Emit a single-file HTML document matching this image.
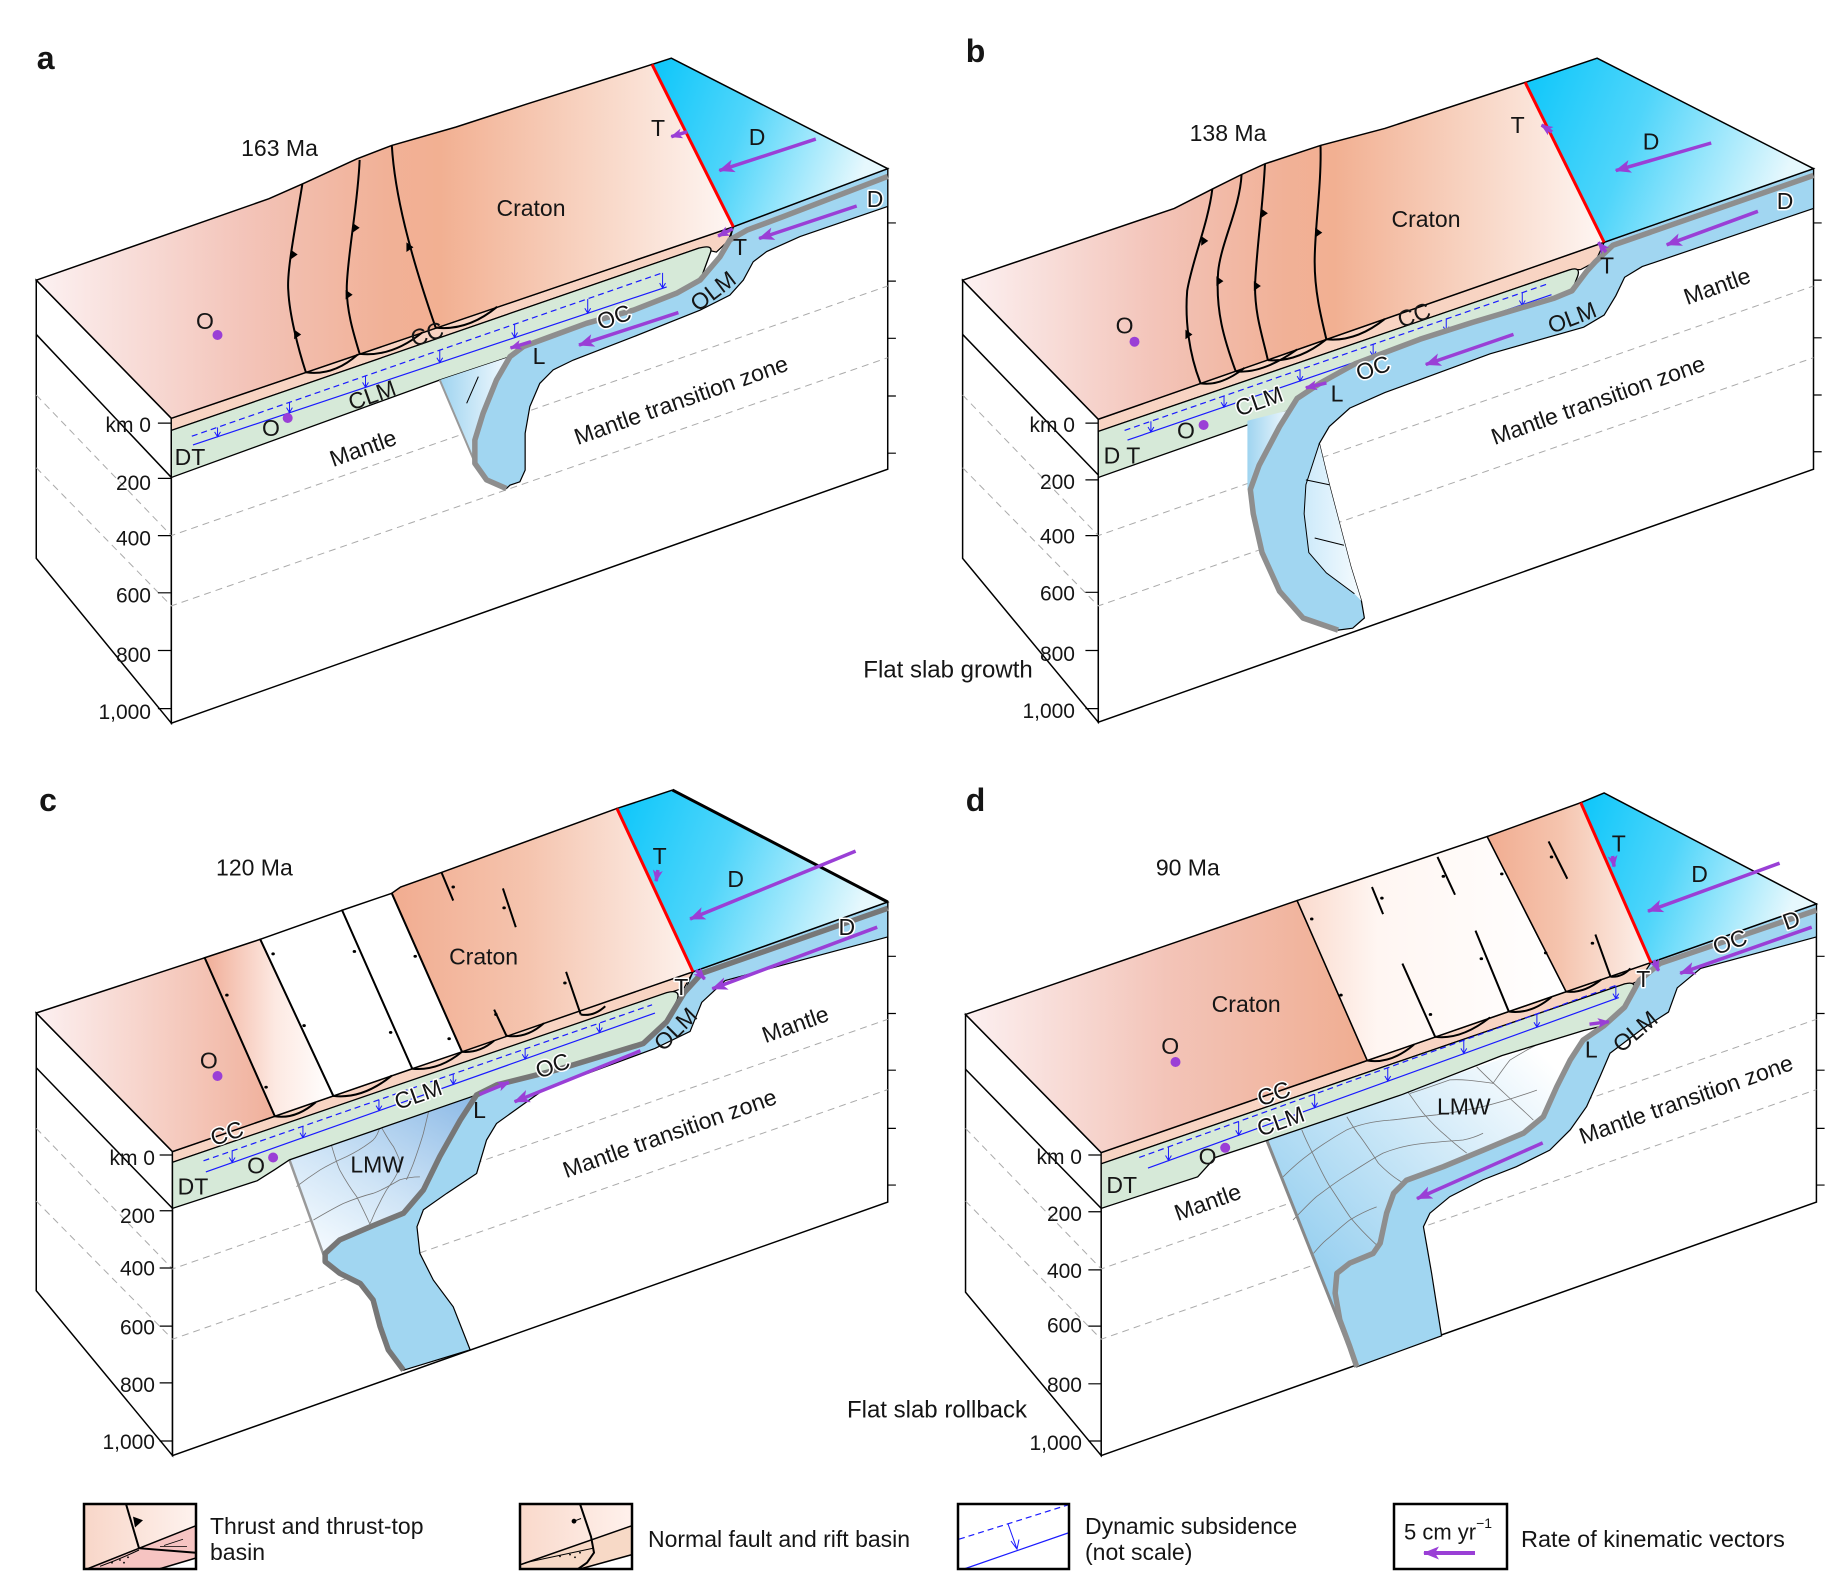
<!DOCTYPE html>
<html><head><meta charset="utf-8">
<style>
html,body{margin:0;padding:0;background:#fff;overflow:hidden;}
svg{display:block;}
.p *{vector-effect:non-scaling-stroke;}
text{font-family:"Liberation Sans",Arial,sans-serif;fill:#151515;}
.lb{font-size:23px;}
.dp{font-size:21px;text-anchor:end;dominant-baseline:central;}
.c{text-anchor:middle;dominant-baseline:central;}
.pl{font-size:32px;font-weight:bold;}
.halo{stroke:#fff;stroke-width:3px;paint-order:stroke;stroke-linejoin:round;}
.lg{font-size:23px;dominant-baseline:central;}
</style></head><body>
<svg width="1834" height="1588" viewBox="0 0 1834 1588" xmlns="http://www.w3.org/2000/svg">
<defs>
<linearGradient id="cr" x1="0" y1="0" x2="1" y2="0">
<stop offset="0" stop-color="#fcf1f2"/><stop offset="0.3" stop-color="#f3c4b9"/><stop offset="0.5" stop-color="#f1b197"/><stop offset="0.58" stop-color="#f2b092"/><stop offset="0.8" stop-color="#f8d5c4"/><stop offset="1" stop-color="#fef6f3"/>
</linearGradient>
<linearGradient id="oc" x1="0" y1="0" x2="1" y2="0.25">
<stop offset="0" stop-color="#0bc6fa"/><stop offset="0.45" stop-color="#4fd5fa"/><stop offset="1" stop-color="#e6f8fd"/>
</linearGradient>
<linearGradient id="wA" x1="0" y1="0" x2="1" y2="0"><stop offset="0" stop-color="#9fd4f0"/><stop offset="1" stop-color="#f4fafe"/></linearGradient>
<linearGradient id="wB" x1="0" y1="0" x2="1" y2="0"><stop offset="0" stop-color="#cdeafa"/><stop offset="1" stop-color="#f5fbfe"/></linearGradient>
<linearGradient id="rc1" x1="0" y1="0" x2="1" y2="0"><stop offset="0" stop-color="#fcf0f1"/><stop offset="1" stop-color="#f0b09b"/></linearGradient>
<linearGradient id="rc2" x1="0" y1="0" x2="1" y2="0"><stop offset="0" stop-color="#f0ad97"/><stop offset="0.55" stop-color="#fde9e2"/><stop offset="1" stop-color="#ffffff"/></linearGradient>
<linearGradient id="rc5" x1="0" y1="0" x2="1" y2="0"><stop offset="0" stop-color="#f1ac90"/><stop offset="0.45" stop-color="#f5c4ae"/><stop offset="1" stop-color="#fdf2ed"/></linearGradient>
<linearGradient id="rd1" x1="0" y1="0" x2="1" y2="0"><stop offset="0" stop-color="#fcf0f1"/><stop offset="0.5" stop-color="#f3c4b8"/><stop offset="1" stop-color="#f0ad91"/></linearGradient>
<linearGradient id="rd2" x1="0" y1="0" x2="1" y2="0"><stop offset="0" stop-color="#fadacd"/><stop offset="0.3" stop-color="#fff6f2"/><stop offset="1" stop-color="#ffffff"/></linearGradient>
<linearGradient id="lC" gradientUnits="userSpaceOnUse" x1="780" y1="690" x2="560" y2="1010"><stop offset="0" stop-color="#90bce7"/><stop offset="0.6" stop-color="#cfe4f6"/><stop offset="1" stop-color="#f2f9fe"/></linearGradient>
<linearGradient id="lD" gradientUnits="userSpaceOnUse" x1="640" y1="1000" x2="1080" y2="620"><stop offset="0" stop-color="#98d0f0"/><stop offset="1" stop-color="#ffffff"/></linearGradient>
<linearGradient id="lg1" x1="0" y1="0" x2="1" y2="0"><stop offset="0" stop-color="#f8d6c8"/><stop offset="1" stop-color="#fef2ee"/></linearGradient>
<linearGradient id="lg2" x1="0" y1="0" x2="1" y2="0"><stop offset="0" stop-color="#f9d9cb"/><stop offset="1" stop-color="#fff1ec"/></linearGradient>
<marker id="ah" markerUnits="userSpaceOnUse" markerWidth="18" markerHeight="14" refX="15" refY="7" orient="auto"><path d="M0,0.5 L16,7 L0,13.5 L4,7 Z" fill="#9a3fd6"/></marker>
<marker id="ahs" markerUnits="userSpaceOnUse" markerWidth="13" markerHeight="11" refX="11" refY="5.5" orient="auto"><path d="M0,0.5 L12,5.5 L0,10.5 L3,5.5 Z" fill="#9a3fd6"/></marker>
</defs>

<!-- ================= PANEL A ================= -->
<g class="p" transform="translate(0,0) scale(0.5848,0.4847)">
<polygon points="62,578 293,863 293,1492 62,1152" fill="#fff" stroke="#000" stroke-width="1.5"/>
<polygon points="293,863 1254,468 1518,348 1518,968 293,1492" fill="#fff" stroke="#000" stroke-width="1.5"/>
<path d="M62,815 L293,1105 L1518,590 M62,965 L293,1250 L1518,738" fill="none" stroke="#aaa" stroke-width="1" stroke-dasharray="7 5"/>
<path d="M62,690 L293,985" stroke="#000" stroke-width="1.5" fill="none"/>
<path d="M1518,460h14M1518,580h14M1518,698h14M1518,817h14M1518,935h14M270,873h23M270,987h23M270,1105h23M270,1223h23M270,1342h23M270,1462h23" stroke="#000" stroke-width="1.2"/>
<polygon points="1518,348 1254,468 1248,495 1231,530 1197,578 1157,605 1083,640 1003,667 940,695 895,715 872,736 849,784 826,853 812,908 812,956 832,990 866,1008 872,1001 889,994 898,970 898,894 906,839 923,791 946,763 980,743 1083,695 1197,640 1248,609 1271,578 1288,540 1311,519 1368,488 1518,426" fill="#a1d6f1" stroke="#000" stroke-width="1.2"/>
<polygon points="293,863 1254,468 1245,497 1225,520 1195,512 293,888" fill="#f8d4c3" stroke="#000" stroke-width="1.2"/>
<path d="M293,888 L1195,512 Q1222,503 1214,524 L1200,570 L1197,578 L1157,605 L1083,640 L1003,667 L940,695 L895,715 L872,736 L752,784 L293,985 Z" fill="#d6e9d8" stroke="#000" stroke-width="1.3"/>
<polygon points="752,784 872,736 849,784 826,853 812,908 815,963" fill="url(#wA)"/>
<path d="M752,784 L815,963" stroke="#999" stroke-width="2" fill="none"/>
<path d="M798,832 L818,777" stroke="#000" stroke-width="1"/>
<path d="M328,900 L1135,562" stroke="#1a1aff" stroke-width="1.2" stroke-dasharray="6 4" fill="none"/>
<path d="M330,918 L1140,592" stroke="#1a1aff" stroke-width="1.2" fill="none"/>
<path d="M372,882V901M367,891L372,901L377,891M495,830V851M490,841L495,851L500,841M625,776V799M620,789L625,799L630,789M752,722V748M747,738L752,748L757,738M880,669V696M875,686L880,696L885,686M1005,617V646M1000,636L1005,646L1010,636M1133,563V594M1128,584L1133,594L1138,584" stroke="#1a1aff" stroke-width="1" fill="none"/>
<path d="M1518,364 L1339,447 L1277,475 L1248,495 L1231,530 L1197,578 L1157,605 L1083,640 L1003,667 L940,695 L895,715 L872,736 L849,784 L826,853 L812,908 L812,956 L832,990 L866,1008" fill="none" stroke="#8e8e8e" stroke-width="5.5" stroke-linejoin="round"/>
<polygon points="62,578 460,410 520,378 610,328 670,300 780,262 900,215 1115,133 1254,468 293,863" fill="url(#cr)" stroke="#000" stroke-width="1.5"/>
<polygon points="1115,133 1148,120 1518,348 1254,468" fill="url(#oc)" stroke="#000" stroke-width="1.5"/>
<path d="M1115,133 L1254,468" stroke="#f00" stroke-width="3"/>
<g fill="none" stroke="#000" stroke-width="2">
<path d="M517,380 C505,470 490,560 493,600 C495,650 510,720 523,768"/>
<path d="M615,330 C612,420 595,520 593,590 C592,640 605,690 615,730"/>
<path d="M670,300 C675,400 700,520 745,676"/>
<path d="M523,768 Q570,776 612,731 M615,730 Q670,737 722,686 M745,676 Q800,683 850,633"/>
</g>
<g fill="#000"><polygon points="497,515 497,535 509,525"/><polygon points="503,680 503,700 515,690"/><polygon points="603,460 603,480 615,470"/><polygon points="591,598 591,618 603,608"/><polygon points="695,500 695,520 707,510"/></g>
</g>
<g>
<text class="pl c" x="45.6" y="58">a</text>
<text class="lb c" x="279.5" y="148">163 Ma</text>
<text class="lb c" x="531" y="208">Craton</text>
<text class="lb c" x="658" y="128">T</text>
<text class="lb c" x="757" y="137">D</text>
<text class="lb c halo" x="875" y="199">D</text>
<text class="lb c" x="740" y="247">T</text>
<text class="lb c" x="205" y="321">O</text>
<text class="lb c" x="271" y="428">O</text>
<text class="lb c" x="427" y="334" transform="rotate(-19.5 427 334)">CC</text>
<text class="lb c halo" x="614" y="317" transform="rotate(-19.5 614 317)">OC</text>
<text class="lb c" x="372" y="395" transform="rotate(-19.5 372 395)">CLM</text>
<text class="lb c" x="713" y="291" transform="rotate(-37 713 291)">OLM</text>
<text class="lb c" x="539" y="356">L</text>
<text class="lb c" x="363" y="448" transform="rotate(-19.5 363 448)">Mantle</text>
<text class="lb c" x="681" y="400" transform="rotate(-19.5 681 400)">Mantle transition zone</text>
<text class="lb c" x="190" y="457">DT</text>
<text class="dp" x="151" y="425.6">km 0</text>
<text class="dp" x="151" y="483.3">200</text>
<text class="dp" x="151" y="539">400</text>
<text class="dp" x="151" y="596.2">600</text>
<text class="dp" x="151" y="655.3">800</text>
<text class="dp" x="151" y="712.5">1,000</text>
<circle cx="217.5" cy="335" r="5" fill="#9a3fd6"/>
<circle cx="287.7" cy="418" r="5" fill="#9a3fd6"/>
<g stroke="#9a3fd6" stroke-width="3.5" fill="none">
<path d="M815.8,139.1 L719.3,170.6" marker-end="url(#ah)"/>
<path d="M856.7,206 L759.1,238.5" marker-end="url(#ah)"/>
<path d="M678.4,312.6 L579,345.1" marker-end="url(#ah)"/>
<path d="M531,341.7 L510.5,348" marker-end="url(#ahs)"/>
<path d="M687.1,131.8 L671.3,136.7" marker-end="url(#ahs)"/>
<path d="M732.8,228.8 L718.1,236" marker-end="url(#ahs)"/>
</g>
</g>

<!-- ================= PANEL B ================= -->
<g class="p" transform="translate(917,0) scale(0.5848,0.4847)">
<polygon points="78,578 310,865 310,1490 78,1152" fill="#fff" stroke="#000" stroke-width="1.5"/>
<polygon points="310,865 1175,500 1533,348 1533,968 310,1490" fill="#fff" stroke="#000" stroke-width="1.5"/>
<path d="M78,815 L310,1105 L1533,590 M78,965 L310,1250 L1533,738" fill="none" stroke="#aaa" stroke-width="1" stroke-dasharray="7 5"/>
<path d="M78,690 L310,980" stroke="#000" stroke-width="1.5" fill="none"/>
<path d="M1533,460h14M1533,578h14M1533,697h14M1533,815h14M1533,932h14M288,873h22M288,990h22M288,1105h22M288,1222h22M288,1342h22M288,1462h22" stroke="#000" stroke-width="1.2"/>
<polygon points="1533,348 1175,500 1160,540 1145,560 1120,600 1090,615 950,665 860,700 750,750 690,790 650,822 620,880 585,960 570,1010 575,1060 590,1140 620,1220 660,1275 720,1300 745,1296 765,1275 760,1240 742,1170 705,1000 688,915 705,880 740,842 800,810 980,730 1140,675 1175,650 1195,610 1210,572 1240,550 1533,430" fill="#a1d6f1" stroke="#000" stroke-width="1.2"/>
<polygon points="688,915 705,1000 742,1170 760,1240 748,1225 700,1182 670,1140 662,1060 665,1000" fill="url(#wB)"/>
<path d="M688,915 L665,1000 L662,1060 L670,1140 L700,1182 L748,1225 M665,990 L705,1000 M680,1110 L730,1125" stroke="#000" stroke-width="1" fill="none"/>
<polygon points="310,865 1175,500 1160,540 1135,556 1115,557 310,890" fill="#f8d4c3" stroke="#000" stroke-width="1.2"/>
<path d="M310,890 L1115,557 Q1138,548 1128,575 L1120,600 L1090,615 L950,665 L860,700 L750,750 L690,790 L650,822 L640,845 L310,985 Z" fill="#d6e9d8" stroke="#000" stroke-width="1.3"/>
<polygon points="565,868 640,845 620,880 585,960 570,1010 565,1010" fill="url(#wA)"/>
<path d="M355,888 L1080,585" stroke="#1a1aff" stroke-width="1.2" stroke-dasharray="6 4" fill="none"/>
<path d="M360,908 L1085,608" stroke="#1a1aff" stroke-width="1.2" fill="none"/>
<path d="M400,869V891M395,881L400,891L405,881M525,817V840M520,830L525,840L530,830M655,763V786M650,776L655,786L660,776M780,710V735M775,725L780,735L785,725M905,658V684M900,674L905,684L910,674M1035,604V630M1030,620L1035,630L1040,620" stroke="#1a1aff" stroke-width="1" fill="none"/>
<path d="M1533,362 L1190,506 L1160,540 L1145,560 L1120,600 L1090,615 L950,665 L860,700 L750,750 L690,790 L650,822 L620,880 L585,960 L570,1010 L575,1060 L590,1140 L620,1220 L660,1275 L720,1300" fill="none" stroke="#8e8e8e" stroke-width="5.5" stroke-linejoin="round"/>
<polygon points="78,578 440,430 505,390 555,360 595,338 690,300 800,265 1040,170 1175,500 310,865" fill="url(#cr)" stroke="#000" stroke-width="1.5"/>
<polygon points="1040,170 1163,120 1533,348 1175,500" fill="url(#oc)" stroke="#000" stroke-width="1.5"/>
<path d="M1040,170 L1175,500" stroke="#f00" stroke-width="3"/>
<g fill="none" stroke="#000" stroke-width="2">
<path d="M505,390 C498,460 470,540 462,600 C458,660 465,730 485,791"/>
<path d="M555,360 C552,430 520,500 515,560 C510,640 525,700 545,766"/>
<path d="M595,338 C592,420 580,520 578,590 C578,650 590,690 600,743"/>
<path d="M690,300 C692,380 680,470 680,540 C680,600 690,650 700,700"/>
<path d="M485,791 Q520,797 560,759 M545,766 Q590,772 650,721 M600,743 Q650,748 700,700 M700,700 Q750,706 800,658"/>
</g>
<g fill="#000"><polygon points="486,487 486,507 498,497"/><polygon points="459,680 459,700 471,690"/><polygon points="512,570 512,590 524,580"/><polygon points="588,430 588,450 600,440"/><polygon points="576,580 576,600 588,590"/><polygon points="681,470 681,490 693,480"/></g>
</g>
<g>
<text class="pl c" x="975.5" y="51">b</text>
<text class="lb c" x="1228" y="133">138 Ma</text>
<text class="lb c" x="1426" y="219">Craton</text>
<text class="lb c" x="1517.6" y="125">T</text>
<text class="lb c" x="1651" y="141.5">D</text>
<text class="lb c halo" x="1785" y="201">D</text>
<text class="lb c" x="1607" y="265.6">T</text>
<text class="lb c" x="1717" y="286" transform="rotate(-19.5 1717 286)">Mantle</text>
<text class="lb c" x="1572" y="317.5" transform="rotate(-21 1572 317.5)">OLM</text>
<text class="lb c" x="1414" y="315" transform="rotate(-19.5 1414 315)">CC</text>
<text class="lb c halo" x="1373" y="368" transform="rotate(-19.5 1373 368)">OC</text>
<text class="lb c halo" x="1259" y="401" transform="rotate(-19.5 1259 401)">CLM</text>
<text class="lb c" x="1337" y="393.6">L</text>
<text class="lb c" x="1124.6" y="325.7">O</text>
<text class="lb c" x="1186" y="430.4">O</text>
<text class="lb c" x="1122" y="455.6">D T</text>
<text class="lb c" x="1598" y="400" transform="rotate(-19.5 1598 400)">Mantle transition zone</text>
<text class="dp" x="1075" y="425.6">km 0</text>
<text class="dp" x="1075" y="482.3">200</text>
<text class="dp" x="1075" y="537">400</text>
<text class="dp" x="1075" y="594.2">600</text>
<text class="dp" x="1075" y="654.3">800</text>
<text class="dp" x="1075" y="711.5">1,000</text>
<circle cx="1134.5" cy="341.7" r="5" fill="#9a3fd6"/>
<circle cx="1203.6" cy="425" r="5" fill="#9a3fd6"/>
<g stroke="#9a3fd6" stroke-width="3.5" fill="none">
<path d="M1711.2,143 L1615.8,170.6" marker-end="url(#ah)"/>
<path d="M1757.9,211.3 L1666.7,244.8" marker-end="url(#ah)"/>
<path d="M1513.5,334.4 L1425.8,364.5" marker-end="url(#ah)"/>
<path d="M1326.4,382.9 L1305.9,387.8" marker-end="url(#ahs)"/>
<path d="M1552,132 L1541.6,125" marker-end="url(#ahs)"/>
<path d="M1606,252 L1598.3,242.4" marker-end="url(#ahs)"/>
</g>
<text class="lb c" x="948" y="670" style="font-size:24px">Flat slab growth</text>
</g>

<!-- ================= PANEL C ================= -->
<g class="p" transform="translate(0,760) scale(0.5848,0.4847)">
<polygon points="62,522 295,808 295,1435 62,1095" fill="#fff" stroke="#000" stroke-width="1.5"/>
<polygon points="295,808 1185,437 1518,293 1518,912 295,1435" fill="#fff" stroke="#000" stroke-width="1.5"/>
<path d="M62,760 L295,1050 L1518,535 M62,910 L295,1195 L1518,680" fill="none" stroke="#aaa" stroke-width="1" stroke-dasharray="7 5"/>
<path d="M62,635 L295,925" stroke="#000" stroke-width="1.5" fill="none"/>
<path d="M1518,405h14M1518,523h14M1518,640h14M1518,760h14M1518,877h14M273,815h22M273,930h22M273,1048h22M273,1168h22M273,1285h22M273,1405h22" stroke="#000" stroke-width="1.2"/>
<polygon points="1518,293 1185,437 1170,480 1140,540 1100,585 950,640 850,670 815,691 787,743 752,818 724,887 690,935 633,963 581,990 556,1018 556,1035 581,1059 616,1080 638,1114 650,1169 664,1217 690,1259 804,1217 775,1128 741,1073 718,1018 713,963 724,928 764,894 815,853 832,784 849,750 930,680 1120,595 1180,560 1200,500 1240,455 1518,365" fill="#a1d6f1" stroke="#000" stroke-width="1.2"/>
<polygon points="495,825 815,691 787,743 752,818 724,887 690,935 633,963 581,990 556,1018 556,1035" fill="url(#lC)"/>
<g fill="none" stroke="#777" stroke-width="0.8">
<path d="M564,784 C572,815 575,830 581,846 C592,870 600,885 610,901 C620,925 628,945 633,959"/>
<path d="M650,753 C660,775 668,790 673,798 C680,815 686,830 684,839 C678,860 668,875 661,887 C650,910 640,935 633,956"/>
<path d="M735,715 C730,740 727,755 724,770 C718,795 712,815 707,832 C703,845 698,858 695,866"/>
<path d="M507,880 C520,868 533,857 547,846 C562,835 578,826 593,818 C610,808 626,796 638,784 C645,776 648,765 650,756"/>
<path d="M536,949 C553,937 570,925 587,915 C605,906 622,899 638,894 C655,887 670,875 684,866 C695,862 707,860 718,860"/>
</g>
<path d="M495,825 L556,1030" stroke="#999" stroke-width="2.5" fill="none"/>
<polygon points="295,808 1185,437 1170,470 1150,478 295,830" fill="#f8d4c3" stroke="#000" stroke-width="1.2"/>
<path d="M295,830 L1140,480 Q1165,472 1158,495 L1140,540 L1100,585 L950,640 L850,670 L815,691 L495,825 L470,845 L440,868 L295,925 Z" fill="#d6e9d8" stroke="#000" stroke-width="1.3"/>
<path d="M348,827 L1115,505" stroke="#1a1aff" stroke-width="1.2" stroke-dasharray="6 4" fill="none"/>
<path d="M352,850 L1120,522" stroke="#1a1aff" stroke-width="1.2" fill="none"/>
<path d="M397,806V830M392,820L397,830L402,820M518,756V779M513,769L518,779L523,769M648,701V723M643,713L648,723L653,713M775,648V669M770,659L775,669L780,659M898,596V617M893,607L898,617L903,607M1025,543V562M1020,552L1025,562L1030,552" stroke="#1a1aff" stroke-width="1" fill="none"/>
<path d="M1518,306 L1200,440 L1170,480 L1140,540 L1100,585 L950,640 L850,670 L815,691 L787,743 L752,818 L724,887 L690,935 L633,963 L581,990 L556,1018 L556,1035 L581,1059 L616,1080 L638,1114 L650,1169 L664,1217 L690,1259" fill="none" stroke="#777" stroke-width="5.5" stroke-linejoin="round"/>
<polygon points="62,522 350,408 470,735 295,808" fill="url(#rc1)" stroke="#000" stroke-width="1.5"/>
<polygon points="350,408 445,370 570,693 470,735" fill="url(#rc2)" stroke="#000" stroke-width="1.5"/>
<polygon points="445,370 585,310 705,637 570,693" fill="#fff" stroke="#000" stroke-width="1.5"/>
<polygon points="585,310 670,275 790,602 705,637" fill="#fff" stroke="#000" stroke-width="1.5"/>
<polygon points="670,275 685,262 755,232 1055,100 1185,437 790,602" fill="url(#rc5)" stroke="#000" stroke-width="1.5"/>
<polygon points="1055,100 1150,62 1518,293 1185,437" fill="url(#oc)" stroke="#000" stroke-width="1.5"/>
<path d="M1150,62 L1518,293" stroke="#000" stroke-width="3"/>
<path d="M1055,100 L1185,437" stroke="#f00" stroke-width="3"/>
<g fill="none" stroke="#000" stroke-width="2">
<path d="M350,408 L470,735 M445,370 L570,693 M585,310 L705,637 M670,275 L790,602"/>
<path d="M755,232 L775,290 M860,265 L882,345 M968,437 L993,525 M845,515 L866,569"/>
<path d="M470,735 Q505,742 540,706 M570,693 Q620,700 670,651 M705,637 Q750,642 790,602 M790,602 Q820,605 845,579 M866,569 Q900,575 930,543 M993,525 Q1015,530 1035,508"/>
</g>
<g fill="#000"><circle cx="388" cy="485" r="3"/><circle cx="455" cy="675" r="3"/><circle cx="467" cy="400" r="3"/><circle cx="520" cy="548" r="3"/><circle cx="606" cy="395" r="3"/><circle cx="668" cy="562" r="3"/><circle cx="710" cy="405" r="3"/><circle cx="768" cy="575" r="3"/><circle cx="775" cy="262" r="3"/><circle cx="862" cy="305" r="3"/><circle cx="966" cy="460" r="3"/><circle cx="848" cy="525" r="3"/></g>
</g>
<g>
<text class="pl c" x="48" y="800">c</text>
<text class="lb c" x="254.4" y="867.6">120 Ma</text>
<text class="lb c" x="483.6" y="956.3">Craton</text>
<text class="lb c" x="659.7" y="856">T</text>
<text class="lb c" x="735.7" y="878.8">D</text>
<text class="lb c halo" x="846.8" y="927.2">D</text>
<text class="lb c halo" x="681.3" y="986.8">T</text>
<text class="lb c" x="795.3" y="1024.2" transform="rotate(-19.5 795.3 1024.2)">Mantle</text>
<text class="lb c" x="675.4" y="1029" transform="rotate(-45 675.4 1029)">OLM</text>
<text class="lb c halo" x="552.6" y="1065.4" transform="rotate(-19.5 552.6 1065.4)">OC</text>
<text class="lb c halo" x="418.1" y="1094.4" transform="rotate(-19.5 418.1 1094.4)">CLM</text>
<text class="lb c" x="479.5" y="1110">L</text>
<text class="lb c halo" x="226.9" y="1133.2" transform="rotate(-19.5 226.9 1133.2)">CC</text>
<text class="lb c" x="208.8" y="1060.5">O</text>
<text class="lb c" x="256.1" y="1165.7">O</text>
<text class="lb c" x="377.2" y="1164.7">LMW</text>
<text class="lb c" x="193" y="1186.5">DT</text>
<text class="lb c" x="669.6" y="1133.2" transform="rotate(-19.5 669.6 1133.2)">Mantle transition zone</text>
<text class="dp" x="155" y="1158.4">km 0</text>
<text class="dp" x="155" y="1216.6">200</text>
<text class="dp" x="155" y="1268.9">400</text>
<text class="dp" x="155" y="1328">600</text>
<text class="dp" x="155" y="1385.3">800</text>
<text class="dp" x="155" y="1442.4">1,000</text>
<circle cx="217.5" cy="1076" r="5" fill="#9a3fd6"/>
<circle cx="273.1" cy="1157.5" r="5" fill="#9a3fd6"/>
<g stroke="#9a3fd6" stroke-width="3.5" fill="none">
<path d="M855.6,851.1 L690.1,919" marker-end="url(#ah)"/>
<path d="M877.2,927.2 L712.3,988.8" marker-end="url(#ah)"/>
<path d="M640.4,1050.8 L514.6,1101.7" marker-end="url(#ah)"/>
<path d="M479.5,1094.4 L508.8,1082.3" marker-end="url(#ahs)"/>
<path d="M657.9,870 L656.1,881.2" marker-end="url(#ahs)"/>
<path d="M696,970 L704.7,979.1" marker-end="url(#ahs)"/>
</g>
<text class="lb c" x="937" y="1410" style="font-size:24px">Flat slab rollback</text>
</g>

<!-- ================= PANEL D ================= -->
<g class="p" transform="translate(917,760) scale(0.5848,0.4847)">
<polygon points="83,525 315,810 315,1435 83,1098" fill="#fff" stroke="#000" stroke-width="1.5"/>
<polygon points="315,810 1255,418 1538,297 1538,912 315,1435" fill="#fff" stroke="#000" stroke-width="1.5"/>
<path d="M83,760 L315,1050 L1538,535 M83,910 L315,1195 L1538,680" fill="none" stroke="#aaa" stroke-width="1" stroke-dasharray="7 5"/>
<path d="M83,638 L315,925" stroke="#000" stroke-width="1.5" fill="none"/>
<path d="M1538,405h14M1538,523h14M1538,640h14M1538,760h14M1538,877h14M293,815h22M293,932h22M293,1052h22M293,1168h22M293,1287h22M293,1405h22" stroke="#000" stroke-width="1.2"/>
<polygon points="1538,297 1255,418 1235,455 1210,510 1175,548 1139,578 1117,619 1094,674 1071,736 1037,770 968,805 900,839 837,867 815,894 803,935 792,997 780,1018 740,1038 718,1059 715,1100 723,1155 740,1210 752,1252 897,1188 889,1128 880,1059 872,1004 866,963 877,935 911,901 968,866 1025,839 1082,805 1117,763 1145,715 1168,653 1185,605 1240,555 1285,520 1300,470 1340,430 1538,365" fill="#a1d6f1" stroke="#000" stroke-width="1.2"/>
<polygon points="598,784 1140,558 1175,548 1139,578 1117,619 1094,674 1071,736 1037,770 968,805 900,839 837,867 815,894 803,935 792,997 780,1018 740,1038 718,1059 715,1100 723,1155 740,1210 752,1252" fill="url(#lD)"/>
<g fill="none" stroke="#777" stroke-width="0.8">
<path d="M658,763 C665,785 672,800 678,815 C690,845 698,865 706,880 C720,905 730,925 740,942 C755,965 772,985 789,1004"/>
<path d="M735,736 C742,750 750,765 758,777 C770,797 780,815 789,832 C802,848 815,862 832,873"/>
<path d="M837,681 C847,697 856,714 866,729 C878,746 892,763 906,777 C918,790 930,802 940,811"/>
<path d="M957,633 C967,645 976,656 986,667 C998,680 1009,693 1020,705 C1032,718 1043,730 1054,743"/>
<path d="M626,860 C640,843 656,826 672,812 C692,794 713,778 735,763 C760,750 785,745 809,743 C835,740 862,735 889,732 C915,728 942,722 968,715 C998,706 1030,694 1060,681"/>
<path d="M643,949 C656,933 669,916 683,901 C702,884 720,867 740,853 C760,838 778,823 797,811 C820,800 842,794 866,791 C889,788 912,786 934,784 C946,781 958,776 968,770"/>
<path d="M678,1018 C685,1008 692,998 700,990 C713,977 726,962 740,949 C755,938 770,929 786,922"/>
<path d="M843,688 C866,679 888,670 911,660 C935,658 960,663 985,667 C995,650 1004,634 1014,619 C1030,607 1047,595 1065,585"/>
</g>
<path d="M598,784 L752,1252" stroke="#888" stroke-width="3" fill="none"/>
<polygon points="315,810 1255,418 1235,455 1222,462 1210,462 315,833" fill="#f8d4c3" stroke="#000" stroke-width="1.2"/>
<path d="M315,833 L1210,462 Q1232,455 1225,478 L1210,510 L1175,548 L1140,558 L1000,610 L830,690 L598,785 L510,820 L480,860 L315,925 Z" fill="#d6e9d8" stroke="#000" stroke-width="1.3"/>
<path d="M380,820 L1195,465" stroke="#1a1aff" stroke-width="1.2" stroke-dasharray="6 4" fill="none"/>
<path d="M395,842 L1200,490" stroke="#1a1aff" stroke-width="1.2" fill="none"/>
<path d="M430,798V826M425,816L430,826L435,816M550,746V774M545,764L550,774L555,764M680,689V717M675,707L680,717L685,707M805,635V662M800,652L805,662L810,652M935,578V605M930,595L935,605L940,595M1060,524V551M1055,541L1060,551L1065,541M1195,465V492M1190,482L1195,492L1200,482" stroke="#1a1aff" stroke-width="1" fill="none"/>
<path d="M1538,310 L1270,420 L1235,455 L1210,510 L1175,548 L1139,578 L1117,619 L1094,674 L1071,736 L1037,770 L968,805 L900,839 L837,867 L815,894 L803,935 L792,997 L780,1018 L740,1038 L718,1059 L715,1100 L723,1155 L740,1210 L752,1252" fill="none" stroke="#8e8e8e" stroke-width="5.5" stroke-linejoin="round"/>
<polygon points="83,525 650,290 770,620 315,810" fill="url(#rd1)" stroke="#000" stroke-width="1.5"/>
<polygon points="650,290 975,158 1110,478 770,620" fill="url(#rd2)" stroke="#000" stroke-width="1.5"/>
<polygon points="975,158 1135,88 1255,418 1110,478" fill="url(#rc5)" stroke="#000" stroke-width="1.5"/>
<polygon points="1135,88 1175,68 1538,297 1255,418" fill="url(#oc)" stroke="#000" stroke-width="1.5"/>
<path d="M1135,88 L1255,418" stroke="#f00" stroke-width="3"/>
<g fill="none" stroke="#000" stroke-width="2">
<path d="M778,262 L797,318 M890,200 L920,278 M955,352 L1012,519 M830,420 L886,571 M1080,168 L1112,245 M1160,360 L1186,447"/>
<path d="M770,620 Q810,628 850,587 M886,571 Q930,578 980,531 M1012,519 Q1050,525 1085,489 M1110,478 Q1140,482 1170,453 M1186,447 Q1205,449 1220,430"/>
</g>
<g fill="#000"><circle cx="675" cy="328" r="3"/><circle cx="795" cy="285" r="3"/><circle cx="900" cy="240" r="3"/><circle cx="1000" cy="235" r="3"/><circle cx="1085" cy="200" r="3"/><circle cx="725" cy="485" r="3"/><circle cx="878" cy="525" r="3"/><circle cx="965" cy="410" r="3"/><circle cx="1075" cy="398" r="3"/><circle cx="1155" cy="378" r="3"/></g>
</g>
<g>
<text class="pl c" x="975.5" y="800">d</text>
<text class="lb c" x="1187.8" y="867.6">90 Ma</text>
<text class="lb c" x="1246.2" y="1003.8">Craton</text>
<text class="lb c" x="1618.8" y="843.4">T</text>
<text class="lb c" x="1699.5" y="873.9">D</text>
<text class="lb c halo" x="1791.3" y="920" transform="rotate(-19.5 1791.3 920)">D</text>
<text class="lb c halo" x="1729.9" y="941.8" transform="rotate(-19.5 1729.9 941.8)">OC</text>
<text class="lb c halo" x="1643.3" y="979.1">T</text>
<text class="lb c" x="1635.1" y="1031.4" transform="rotate(-40 1635.1 1031.4)">OLM</text>
<text class="lb c" x="1591.3" y="1049.4">L</text>
<text class="lb c" x="1463.8" y="1106.6">LMW</text>
<text class="lb c halo" x="1273.7" y="1093.5" transform="rotate(-19.5 1273.7 1093.5)">CC</text>
<text class="lb c halo" x="1280.7" y="1121.1" transform="rotate(-19.5 1280.7 1121.1)">CLM</text>
<text class="lb c" x="1170.2" y="1046">O</text>
<text class="lb c" x="1207.6" y="1156.5">O</text>
<text class="lb c" x="1121.7" y="1185">DT</text>
<text class="lb c" x="1207.6" y="1202" transform="rotate(-19.5 1207.6 1202)">Mantle</text>
<text class="lb c" x="1686" y="1099.3" transform="rotate(-19.5 1686 1099.3)">Mantle transition zone</text>
<text class="dp" x="1082" y="1157.5">km 0</text>
<text class="dp" x="1082" y="1214.6">200</text>
<text class="dp" x="1082" y="1271.4">400</text>
<text class="dp" x="1082" y="1326">600</text>
<text class="dp" x="1082" y="1385.3">800</text>
<text class="dp" x="1082" y="1443.4">1,000</text>
<circle cx="1175.5" cy="1062" r="5" fill="#9a3fd6"/>
<circle cx="1225.2" cy="1147.8" r="5" fill="#9a3fd6"/>
<g stroke="#9a3fd6" stroke-width="3.5" fill="none">
<path d="M1779.6,863.2 L1648,911.2" marker-end="url(#ah)"/>
<path d="M1811.7,927.2 L1680.2,973.3" marker-end="url(#ah)"/>
<path d="M1542.7,1142.9 L1417,1198.6" marker-end="url(#ah)"/>
<path d="M1589.5,1024.2 L1608.8,1021.7" marker-end="url(#ahs)"/>
<path d="M1612.5,856 L1614.1,866.6" marker-end="url(#ahs)"/>
<path d="M1654,960 L1658.5,970.8" marker-end="url(#ahs)"/>
</g>
</g>

<!-- ================= LEGEND ================= -->
<g>
<!-- box 1 -->
<rect x="84" y="1504" width="112" height="65" fill="url(#lg1)"/>
<polygon points="87,1569 196,1525.7 196,1558 159,1569" fill="#f6c4c2"/>
<polygon points="159,1569 196,1558 196,1569" fill="#fff"/>
<path d="M87,1569 L196,1525.7 M159,1569 L196,1558" stroke="#000" stroke-width="1.5" fill="none"/>
<path d="M126,1504 L139,1548.2 L196,1552.7" stroke="#000" stroke-width="2" fill="none"/>
<path d="M100,1566.3 Q120,1559 139,1550" stroke="#000" stroke-width="1" fill="none"/>
<polygon points="133,1516.6 135,1527.5 143,1520.3" fill="#000"/>
<path d="M160,1546.4 L187,1546.4 M164,1545.5 L183,1539.2" stroke="#000" stroke-width="0.8" fill="none"/>
<g fill="#000"><circle cx="112" cy="1562.7" r="0.9"/><circle cx="120" cy="1560" r="0.9"/><circle cx="128" cy="1557.3" r="0.9"/><circle cx="124" cy="1562.7" r="0.9"/></g>
<rect x="84" y="1504" width="112" height="65" fill="none" stroke="#000" stroke-width="2.5"/>
<text class="lg" x="210" y="1526">Thrust and thrust-top</text>
<text class="lg" x="210" y="1552">basin</text>

<!-- box 2 -->
<rect x="520" y="1504" width="112" height="65" fill="url(#lg2)"/>
<polygon points="521,1564.5 632,1525.7 632,1554.6 580,1569 521,1569" fill="#f7d9c6"/>
<polygon points="580,1569 632,1554.6 632,1569" fill="#fff"/>
<path d="M521,1564.5 L632,1525.7 M580,1569 L632,1554.6" stroke="#000" stroke-width="1.5" fill="none"/>
<path d="M580,1504 L591,1536.5 L594,1552.7 L587,1562.7 L578,1569" stroke="#000" stroke-width="2" fill="none"/>
<path d="M525,1562.7 L593,1548.2" stroke="#000" stroke-width="1" fill="none"/>
<circle cx="574" cy="1521.2" r="2.4" fill="#000"/>
<path d="M574,1521.2 L581,1518.5" stroke="#000" stroke-width="1"/>
<g fill="#000"><circle cx="560" cy="1556.4" r="0.9"/><circle cx="570" cy="1554.6" r="0.9"/><circle cx="580" cy="1552.7" r="0.9"/><circle cx="575" cy="1557.3" r="0.9"/></g>
<rect x="520" y="1504" width="112" height="65" fill="none" stroke="#000" stroke-width="2.5"/>
<text class="lg" x="648" y="1539">Normal fault and rift basin</text>

<!-- box 3 -->
<rect x="958" y="1504" width="111" height="65" fill="#fff"/>
<path d="M959,1539.2 L1068,1504.9" stroke="#1a1aff" stroke-width="1.2" stroke-dasharray="6 4" fill="none"/>
<path d="M964,1569 L1068,1533" stroke="#1a1aff" stroke-width="1.2" fill="none"/>
<path d="M1008,1523.9 L1017,1549.1 M1011,1541 L1017,1549.1 L1019,1539.5" stroke="#1a1aff" stroke-width="1" fill="none"/>
<rect x="958" y="1504" width="111" height="65" fill="none" stroke="#000" stroke-width="2.5"/>
<text class="lg" x="1085" y="1526">Dynamic subsidence</text>
<text class="lg" x="1085" y="1552">(not scale)</text>

<!-- box 4 -->
<rect x="1394" y="1504" width="113" height="65" fill="#fff" stroke="#000" stroke-width="2.5"/>
<text x="1404" y="1532" style="font-size:22px;dominant-baseline:central">5 cm yr<tspan dy="-9" style="font-size:14px">−1</tspan></text>
<path d="M1475,1553 L1424,1553" stroke="#9a3fd6" stroke-width="4" fill="none" marker-end="url(#ah)"/>
<text class="lg" x="1521" y="1539" style="font-size:23.5px">Rate of kinematic vectors</text>
</g>
</svg>
</body></html>
